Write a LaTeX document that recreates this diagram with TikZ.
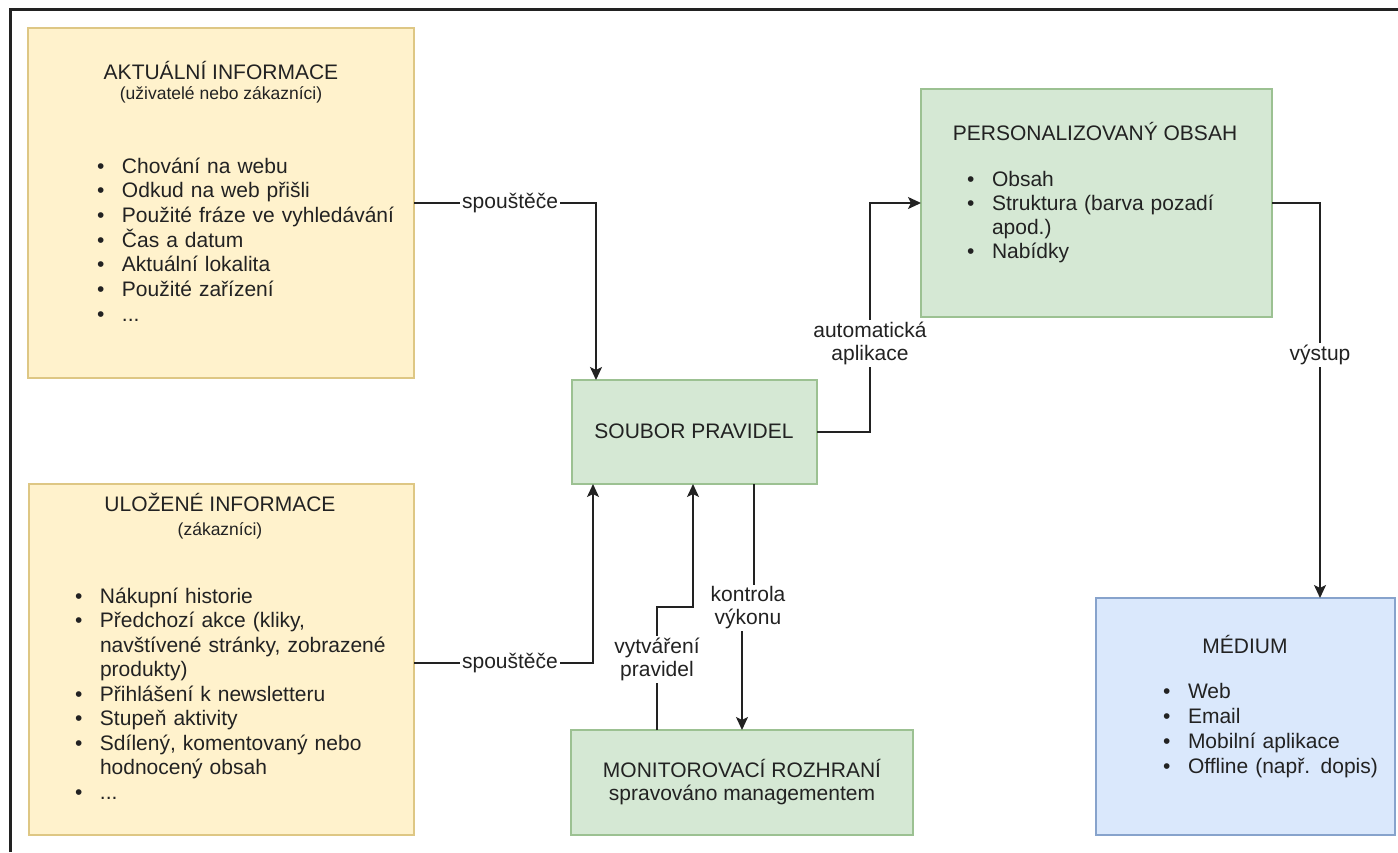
\documentclass[tikz,border=0pt]{standalone}
\usepackage{fontspec}
\setmainfont{Liberation Sans}
\usetikzlibrary{arrows.meta}
\definecolor{yelF}{HTML}{FFF2CC}
\definecolor{yelD}{HTML}{DEC784}
\definecolor{grnF}{HTML}{D5E8D4}
\definecolor{grnD}{HTML}{9CC192}
\definecolor{bluF}{HTML}{DAE8FC}
\definecolor{bluD}{HTML}{87A3CC}
\definecolor{ink}{HTML}{222222}
\newcommand\bl{\makebox[25pt][l]{\textbullet}}
\newcommand\ind{\hspace*{25pt}}
\begin{document}
\begin{tikzpicture}[x=1pt,y=-1pt,
  box/.style={line width=1.1pt, inner sep=0pt, outer sep=0pt},
  yelbox/.style={box, draw=yelD, fill=yelF},
  grnbox/.style={box, draw=grnD, fill=grnF},
  blubox/.style={box, draw=bluD, fill=bluF},
  txt/.style={inner sep=0pt, outer sep=0pt, font=\fontsize{21}{24.7}\selectfont, text=ink},
  subtxt/.style={inner sep=0pt, outer sep=0pt, font=\fontsize{17.5}{21}\selectfont, text=ink},
  bul/.style={txt, anchor=base west, text width=#1, align=left},
  lbl/.style={fill=white, inner sep=2pt, align=center, font=\fontsize{21}{23}\selectfont, text=ink},
  conn/.style={draw=ink, line width=1.6pt},
  arr/.style={conn, -{Stealth[length=13pt,width=12pt,inset=3pt]}}
]
\useasboundingbox[fill=white] (0,0) rectangle (1398,852);
\draw[line width=3pt, draw=ink] (10,852) -- (10,9) -- (1398,9);

% boxes
\node[yelbox, minimum width=386pt, minimum height=350pt] (akt) at (221,203) {};
\node[yelbox, minimum width=385pt, minimum height=351pt] (ulo) at (221.5,659.5) {};
\node[grnbox, minimum width=245pt, minimum height=104pt] (sp) at (694.5,432) {};
\node[grnbox, minimum width=351pt, minimum height=228pt] (pers) at (1096.5,203) {};
\node[grnbox, minimum width=342pt, minimum height=105pt] (mon) at (742,782.5) {};
\node[blubox, minimum width=299pt, minimum height=237pt] (med) at (1245.5,716.5) {};

% texts of akt
\node[txt, anchor=base] (aktT) at (221,79) {AKTUÁLNÍ INFORMACE};
\node[subtxt, anchor=base] (aktS) at (221,99) {(uživatelé nebo zákazníci)};
\node[bul=310pt] (aktL) at (97,173) {\bl Chování na webu\\ \bl Odkud na web přišli\\ \bl Použité fráze ve vyhledávání\\ \bl Čas a datum\\ \bl Aktuální lokalita\\ \bl Použité zařízení\\ \bl ...};

% texts of ulo
\node[txt, anchor=base] (uloT) at (220,511) {ULOŽENÉ INFORMACE};
\node[subtxt, anchor=base] (uloS) at (220,535) {(zákazníci)};
\node[bul=330pt, font=\fontsize{21}{24.5}\selectfont] (uloL) at (75,603) {\bl Nákupní historie\\ \bl Předchozí akce (kliky,\\ \ind navštívené stránky, zobrazené\\ \ind produkty)\\ \bl Přihlášení k newsletteru\\ \bl Stupeň aktivity\\ \bl Sdílený, komentovaný nebo\\ \ind hodnocený obsah\\ \bl ...};

% soubor
\node[txt, anchor=base] (spT) at (694,438) {SOUBOR PRAVIDEL};

% pers
\node[txt, anchor=base] (persT) at (1095,140) {PERSONALIZOVANÝ OBSAH};
\node[bul=290pt, font=\fontsize{21}{24.3}\selectfont] (persL) at (967,186) {\bl Obsah\\ \bl Struktura (barva pozadí\\ \ind apod.)\\ \bl Nabídky};

% monitor
\node[txt, anchor=base] (monT) at (742,777) {MONITOROVACÍ ROZHRANÍ};
\node[txt, anchor=base] (monS) at (742,800) {spravováno managementem};

% medium
\node[txt, anchor=base] (medT) at (1245,653) {MÉDIUM};
\node[bul=220pt, font=\fontsize{21}{25}\selectfont] (medL) at (1163,698) {\bl Web\\ \bl Email\\ \bl Mobilní aplikace\\ \bl Offline (např. dopis)};

% connectors
\coordinate (v1) at (657,607);
\coordinate (k1) at (754,608);
\coordinate (k2) at (742,608);
\coordinate (a1) at (870,432);

\draw[arr] (akt.east) -| node[lbl, pos=0.264] (l1) {spouštěče} ([xshift=-98.5pt]sp.north);
\draw[arr] ([yshift=-3.5pt]ulo.east) -| node[lbl, pos=0.268] (l2) {spouštěče} ([xshift=-101.5pt]sp.south);
\draw[arr] ([xshift=-85pt]mon.north) -- node[lbl, pos=0.57] (l3) {vytváření\\pravidel} (v1) -| ([xshift=-1.5pt]sp.south);
\draw[arr] ([xshift=59.5pt]sp.south) -- (k1) -- (k2) -- (mon.north);
\node[lbl] (l4) at (748,608) {kontrola\\výkonu};
\draw[arr] (sp.east) -- (a1) |- node[lbl, pos=0.194] (l5) {automatická\\aplikace} (pers.west);
\draw[arr] (pers.east) -| node[lbl, pos=0.692] (l6) {výstup} ([xshift=74.5pt]med.north);
\end{tikzpicture}
\end{document}
